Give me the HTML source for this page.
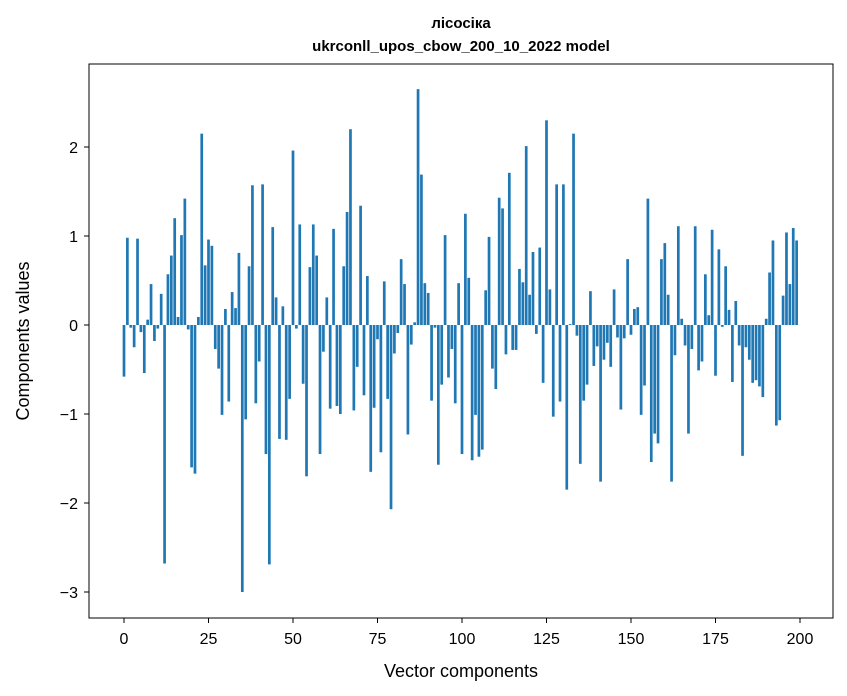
<!DOCTYPE html>
<html><head><meta charset="utf-8"><style>
body{margin:0;background:#fff;}
svg{display:block;font-family:"Liberation Sans","DejaVu Sans",sans-serif;}
</style></head><body>
<svg id="chart" width="847" height="696" viewBox="0 0 847 696">
<rect x="0" y="0" width="847" height="696" fill="#fff"/>
<text x="461" y="28" text-anchor="middle" font-size="15" font-weight="bold">лісосіка</text>
<text x="461" y="51" text-anchor="middle" font-size="15" font-weight="bold">ukrconll_upos_cbow_200_10_2022 model</text>
<g id="bars"></g>
<g id="xticks"></g>
<g id="yticks"></g>
<rect x="89" y="64" width="744" height="554" fill="none" stroke="#000" stroke-width="1"/>
<text x="461" y="677" text-anchor="middle" font-size="18">Vector components</text>
<text x="29" y="341" text-anchor="middle" font-size="18" transform="rotate(-90 29 341)">Components values</text>
</svg>
<script>
const values = [-0.58,0.98,-0.03,-0.25,0.97,-0.08,-0.54,0.06,0.46,-0.18,
-0.04,0.35,-2.68,0.57,0.78,1.20,0.09,1.01,1.42,-0.05,
-1.60,-1.67,0.09,2.15,0.67,0.96,0.89,-0.27,-0.49,-1.01,
0.18,-0.86,0.37,0.19,0.81,-3.00,-1.06,0.66,1.57,-0.88,
-0.41,1.58,-1.45,-2.69,1.10,0.31,-1.28,0.21,-1.29,-0.83,
1.96,-0.04,1.13,-0.66,-1.70,0.65,1.13,0.78,-1.45,-0.30,
0.31,-0.94,1.08,-0.91,-1.00,0.66,1.27,2.20,-0.96,-0.47,
1.34,-0.79,0.55,-1.65,-0.93,-0.16,-1.43,0.49,-0.83,-2.07,
-0.32,-0.09,0.74,0.46,-1.23,-0.22,0.03,2.65,1.69,0.47,
0.36,-0.85,-0.03,-1.57,-0.67,1.01,-0.59,-0.27,-0.88,0.47,
-1.45,1.25,0.53,-1.52,-1.01,-1.48,-1.40,0.39,0.99,-0.49,
-0.72,1.43,1.31,-0.33,1.71,-0.28,-0.28,0.63,0.48,2.01,
0.34,0.82,-0.10,0.87,-0.65,2.30,0.40,-1.03,1.58,-0.86,
1.58,-1.85,0.01,2.15,-0.12,-1.56,-0.85,-0.67,0.38,-0.46,
-0.24,-1.76,-0.39,-0.20,-0.47,0.40,-0.14,-0.95,-0.15,0.74,
-0.11,0.18,0.20,-1.01,-0.68,1.42,-1.54,-1.22,-1.33,0.74,
0.92,0.34,-1.76,-0.34,1.11,0.07,-0.23,-1.22,-0.27,1.11,
-0.51,-0.41,0.57,0.11,1.07,-0.57,0.85,-0.02,0.66,0.17,
-0.64,0.27,-0.23,-1.47,-0.25,-0.39,-0.65,-0.62,-0.69,-0.81,
0.07,0.59,0.95,-1.13,-1.07,0.33,1.04,0.46,1.09,0.95];
const xTicks = [0,25,50,75,100,125,150,175,200];
const yTicks = [-3,-2,-1,0,1,2];
const NS="http://www.w3.org/2000/svg";
function xs(v){return 124+v*3.38;}
function ys(v){return 325-v*89;}
const bars=document.getElementById('bars');
values.forEach((v,i)=>{
  const r=document.createElementNS(NS,'rect');
  const y0=ys(0), y1=ys(v);
  r.setAttribute('x',xs(i)-1.35);
  r.setAttribute('width',2.7);
  r.setAttribute('y',Math.min(y0,y1));
  r.setAttribute('height',Math.abs(y1-y0));
  r.setAttribute('fill','#1f77b4');
  
  
  bars.appendChild(r);
});
const xg=document.getElementById('xticks');
xTicks.forEach(t=>{
  const l=document.createElementNS(NS,'line');
  l.setAttribute('x1',xs(t));l.setAttribute('x2',xs(t));
  l.setAttribute('y1',618);l.setAttribute('y2',623);
  l.setAttribute('stroke','#000');
  
  
  xg.appendChild(l);
  const tx=document.createElementNS(NS,'text');
  tx.setAttribute('x',xs(t));tx.setAttribute('y',644);
  tx.setAttribute('text-anchor','middle');tx.setAttribute('font-size','16');
  tx.textContent=t;
  
  
  xg.appendChild(tx);
});
const yg=document.getElementById('yticks');
yTicks.forEach(t=>{
  const l=document.createElementNS(NS,'line');
  l.setAttribute('x1',84);l.setAttribute('x2',89);
  l.setAttribute('y1',ys(t));l.setAttribute('y2',ys(t));
  l.setAttribute('stroke','#000');
  
  
  yg.appendChild(l);
  const tx=document.createElementNS(NS,'text');
  tx.setAttribute('x',78);tx.setAttribute('y',ys(t)+6);
  tx.setAttribute('text-anchor','end');tx.setAttribute('font-size','16');
  tx.textContent=t<0?'\u2212'+Math.abs(t):String(t);
  
  
  yg.appendChild(tx);
});
</script>
</body></html>
